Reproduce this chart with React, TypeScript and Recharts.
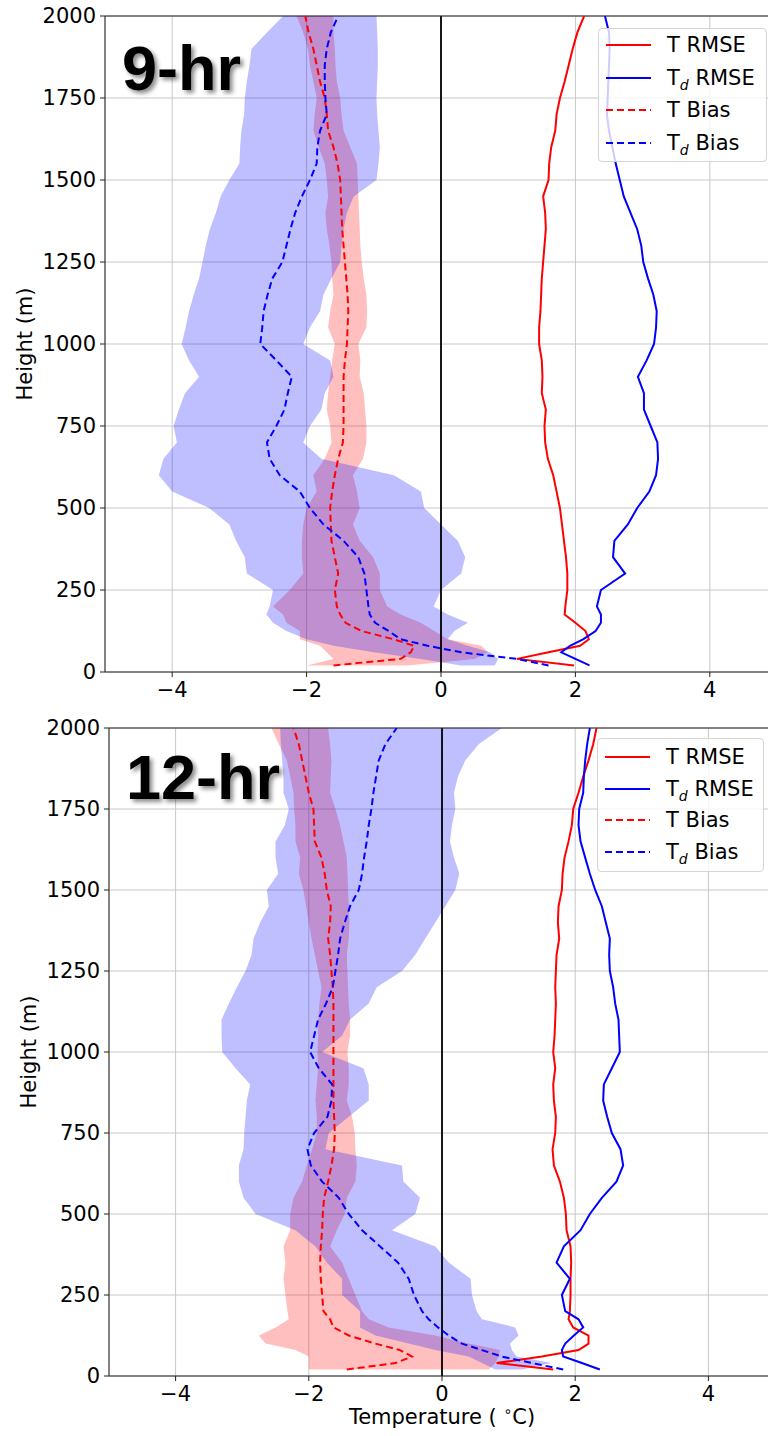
import React from 'react';
import { ComposedChart, Line, Area, XAxis, YAxis, CartesianGrid, ReferenceLine, Label } from 'recharts';

// ---------------- data ----------------
const heights = [20, 40, 60, 80, 100, 125, 150, 175, 200, 250, 300, 350, 400, 450, 500, 550, 600, 650, 700, 750, 800, 850, 900, 950, 1000, 1050, 1100, 1150, 1200, 1250, 1300, 1350, 1400, 1450, 1500, 1550, 1600, 1650, 1700, 1750, 1800, 1850, 1900, 1950, 2000];

const xTicks = [-4, -2, 0, 2, 4];
const yTicks = [0, 250, 500, 750, 1000, 1250, 1500, 1750, 2000];

// 9-hr panel
const tRmse9 = [1.98, 1.13, 1.6, 2.07, 2.2, 2.15, 2.0, 1.84, 1.85, 1.88, 1.88, 1.86, 1.83, 1.8, 1.77, 1.72, 1.67, 1.59, 1.55, 1.54, 1.56, 1.5, 1.51, 1.5, 1.46, 1.46, 1.48, 1.49, 1.5, 1.52, 1.54, 1.56, 1.55, 1.52, 1.6, 1.61, 1.64, 1.7, 1.72, 1.77, 1.84, 1.9, 1.96, 2.03, 2.13];
const tdRmse9 = [2.21, 2.0, 1.79, 1.92, 2.12, 2.3, 2.38, 2.38, 2.32, 2.38, 2.74, 2.56, 2.58, 2.78, 2.92, 3.1, 3.2, 3.23, 3.22, 3.12, 3.02, 3.02, 2.93, 3.06, 3.17, 3.2, 3.21, 3.16, 3.08, 3.01, 2.98, 2.92, 2.82, 2.72, 2.66, 2.6, 2.55, 2.5, 2.47, 2.48, 2.49, 2.5, 2.51, 2.5, 2.44];
const tBias9 = [-1.6, -0.6, -0.45, -0.4, -0.71, -1.18, -1.42, -1.5, -1.55, -1.58, -1.53, -1.58, -1.63, -1.64, -1.65, -1.62, -1.58, -1.53, -1.46, -1.45, -1.45, -1.45, -1.45, -1.43, -1.4, -1.39, -1.38, -1.39, -1.41, -1.43, -1.45, -1.47, -1.48, -1.49, -1.5, -1.54, -1.6, -1.68, -1.7, -1.73, -1.8, -1.85, -1.9, -1.97, -2.02];
const tdBias9 = [1.6, 1.13, 0.3, -0.2, -0.6, -0.78, -0.98, -1.06, -1.08, -1.11, -1.14, -1.23, -1.45, -1.75, -1.95, -2.1, -2.4, -2.55, -2.59, -2.45, -2.33, -2.28, -2.22, -2.45, -2.69, -2.66, -2.64, -2.58, -2.51, -2.36, -2.3, -2.24, -2.17, -2.07, -1.95, -1.85, -1.84, -1.8, -1.7, -1.72, -1.73, -1.73, -1.7, -1.64, -1.53];
const tBandLo9 = [-2.0, -1.6, -1.7, -1.8, -2.1, -2.1, -2.3, -2.35, -2.5, -2.25, -2.05, -2.07, -2.07, -2.05, -2.0, -1.85, -1.9, -1.73, -1.63, -1.65, -1.7, -1.68, -1.65, -1.62, -1.58, -1.68, -1.65, -1.6, -1.62, -1.63, -1.66, -1.7, -1.72, -1.68, -1.7, -1.73, -1.82, -1.9, -1.88, -1.85, -1.9, -1.95, -1.98, -2.05, -2.15];
const tBandHi9 = [-0.5, 0.5, 0.7, 0.6, 0.1, -0.1, -0.3, -0.6, -0.8, -0.91, -0.91, -1.01, -1.21, -1.31, -1.21, -1.25, -1.31, -1.16, -1.11, -1.11, -1.13, -1.15, -1.21, -1.2, -1.23, -1.11, -1.1, -1.11, -1.15, -1.18, -1.2, -1.21, -1.22, -1.23, -1.24, -1.25, -1.35, -1.45, -1.48, -1.5, -1.55, -1.57, -1.58, -1.6, -1.6];
const tdBandLo9 = [0.3, -0.3, -1.0, -1.6, -2.0, -2.3, -2.5, -2.6, -2.55, -2.5, -2.89, -2.92, -3.05, -3.15, -3.45, -4.0, -4.2, -4.13, -3.93, -3.98, -3.9, -3.81, -3.6, -3.75, -3.86, -3.8, -3.75, -3.68, -3.6, -3.55, -3.5, -3.44, -3.35, -3.28, -3.15, -3.0, -2.99, -2.97, -2.93, -2.92, -2.89, -2.85, -2.82, -2.59, -2.35];
const tdBandHi9 = [0.8, 0.85, 0.73, 0.4, 0.1, 0.2, 0.4, 0.1, -0.11, 0.0, 0.3, 0.36, 0.25, 0.0, -0.25, -0.3, -0.7, -1.78, -2.05, -1.95, -1.78, -1.73, -1.6, -1.65, -2.05, -1.95, -1.8, -1.75, -1.63, -1.5, -1.48, -1.45, -1.4, -1.3, -0.96, -0.93, -0.91, -0.93, -0.95, -0.96, -0.95, -0.94, -0.94, -0.95, -0.96];

// 12-hr panel
const tRmse12 = [1.67, 0.82, 1.5, 2.05, 2.2, 2.2, 1.97, 1.9, 1.92, 1.93, 1.93, 1.94, 1.93, 1.87, 1.86, 1.83, 1.77, 1.68, 1.66, 1.7, 1.71, 1.68, 1.67, 1.7, 1.67, 1.69, 1.7, 1.71, 1.7, 1.71, 1.72, 1.76, 1.74, 1.75, 1.8, 1.81, 1.84, 1.9, 1.95, 1.97, 2.05, 2.12, 2.2, 2.27, 2.32];
const tdRmse12 = [2.37, 2.1, 1.82, 1.8, 1.85, 1.98, 2.12, 2.05, 1.85, 1.8, 1.92, 1.72, 1.83, 2.08, 2.22, 2.4, 2.62, 2.72, 2.68, 2.55, 2.48, 2.42, 2.43, 2.55, 2.67, 2.66, 2.65, 2.6, 2.57, 2.52, 2.51, 2.52, 2.46, 2.4, 2.3, 2.22, 2.15, 2.08, 2.05, 2.06, 2.12, 2.13, 2.15, 2.18, 2.22];
const tBias12 = [-1.43, -0.7, -0.45, -0.63, -1.0, -1.4, -1.63, -1.68, -1.78, -1.8, -1.82, -1.83, -1.82, -1.8, -1.79, -1.77, -1.71, -1.66, -1.62, -1.61, -1.62, -1.63, -1.63, -1.63, -1.63, -1.63, -1.63, -1.63, -1.64, -1.66, -1.68, -1.71, -1.68, -1.67, -1.73, -1.76, -1.81, -1.91, -1.92, -1.93, -2.0, -2.05, -2.1, -2.15, -2.23];
const tdBias12 = [1.82, 1.35, 0.9, 0.6, 0.3, 0.1, -0.06, -0.2, -0.3, -0.42, -0.5, -0.66, -0.93, -1.2, -1.4, -1.55, -1.8, -1.97, -2.02, -1.92, -1.72, -1.66, -1.65, -1.85, -1.98, -1.92, -1.86, -1.74, -1.64, -1.6, -1.56, -1.53, -1.46, -1.38, -1.25, -1.2, -1.17, -1.13, -1.1, -1.06, -1.03, -0.99, -0.95, -0.85, -0.68];
const tBandLo12 = [-2.0, -2.0, -2.0, -2.2, -2.65, -2.75, -2.5, -2.3, -2.32, -2.35, -2.38, -2.35, -2.38, -2.28, -2.28, -2.23, -2.1, -2.03, -1.95, -1.88, -1.88, -1.9, -1.88, -1.86, -1.87, -1.86, -1.86, -1.84, -1.81, -1.86, -1.91, -1.96, -2.0, -2.04, -2.08, -2.15, -2.13, -2.2, -2.2, -2.22, -2.23, -2.28, -2.33, -2.45, -2.56];
const tBandHi12 = [0.7, 0.8, 0.85, 0.87, 0.4, -0.1, -0.8, -1.1, -1.2, -1.3, -1.4, -1.5, -1.68, -1.58, -1.46, -1.43, -1.3, -1.28, -1.3, -1.31, -1.35, -1.43, -1.4, -1.4, -1.42, -1.38, -1.38, -1.4, -1.41, -1.42, -1.43, -1.4, -1.39, -1.4, -1.41, -1.42, -1.43, -1.48, -1.53, -1.6, -1.68, -1.67, -1.66, -1.68, -1.71];
const tdBandLo12 = [0.8, 0.6, 0.4, -0.1, -0.5, -1.0, -1.23, -1.23, -1.23, -1.5, -1.5, -1.73, -1.9, -2.2, -2.8, -2.98, -3.05, -3.05, -2.98, -2.97, -2.95, -2.93, -2.88, -3.1, -3.3, -3.31, -3.31, -3.2, -3.08, -2.95, -2.86, -2.83, -2.73, -2.6, -2.63, -2.46, -2.5, -2.5, -2.36, -2.3, -2.38, -2.38, -2.4, -2.42, -2.43];
const tdBandHi12 = [1.2, 1.65, 1.12, 1.05, 1.02, 1.15, 1.1, 0.6, 0.52, 0.45, 0.43, 0.1, -0.1, -0.75, -0.4, -0.33, -0.58, -0.6, -1.75, -1.7, -1.4, -1.1, -1.1, -1.18, -1.8, -1.5, -1.38, -1.1, -0.98, -0.6, -0.4, -0.25, -0.1, 0.05, 0.2, 0.26, 0.18, 0.12, 0.15, 0.2, 0.18, 0.24, 0.35, 0.55, 0.9];

const buildRows = (
  tRmse: number[], tdRmse: number[], tBias: number[], tdBias: number[],
  tLo: number[], tHi: number[], tdLo: number[], tdHi: number[]
) =>
  heights.map((h, i) => ({
    h,
    tRmse: tRmse[i],
    tdRmse: tdRmse[i],
    tBias: tBias[i],
    tdBias: tdBias[i],
    tBand: [tLo[i], tHi[i]],
    tdBand: [tdLo[i], tdHi[i]],
  }));

const rows9 = buildRows(tRmse9, tdRmse9, tBias9, tdBias9, tBandLo9, tBandHi9, tdBandLo9, tdBandHi9);
const rows12 = buildRows(tRmse12, tdRmse12, tBias12, tdBias12, tBandLo12, tBandHi12, tdBandLo12, tdBandHi12);

// ---------------- styling ----------------
const FONT = 'DejaVu Sans';
const FS = 21;
const RED = '#ff0000';
const BLUE = '#0000ff';
const fmt = (v: number) => (v < 0 ? '\u2212' + Math.abs(v) : String(v));

type PanelProps = {
  rows: any[];
  width: number;
  height: number;
  top: number;
  yAxisWidth: number;
  xAxisHeight: number;
  marginTop: number;
  marginBottom: number;
  yLabelX: number;
  showXLabel: boolean;
};

const Panel = ({ rows, width, height, top, yAxisWidth, xAxisHeight, marginTop, marginBottom, yLabelX, showXLabel }: PanelProps) => {
  const plotH = height - marginTop - xAxisHeight - marginBottom;
  const cy = marginTop + plotH / 2;
  return (
    <div style={{ position: 'absolute', left: 0, top }}>
      <ComposedChart
        layout="vertical"
        width={width}
        height={height}
        data={rows}
        margin={{ top: marginTop, right: 13, bottom: marginBottom, left: 0 }}
      >
        <CartesianGrid stroke="#c8c8c8" strokeWidth={1} />
        <XAxis
          type="number"
          domain={[-5, 5]}
          ticks={xTicks}
          allowDataOverflow
          height={xAxisHeight}
          tickFormatter={fmt}
          tick={{ fontSize: FS, fill: '#000', fontFamily: FONT }}
          tickSize={5}
          tickMargin={5}
          axisLine={{ stroke: '#222', strokeWidth: 1 }}
          tickLine={{ stroke: '#222' }}
        >
          {showXLabel && (
            <Label
              content={(props: any) => {
                const vb = props.viewBox || {};
                const cx = (vb.x ?? yAxisWidth) + (vb.width ?? 666) / 2;
                const y = (vb.y ?? marginTop + plotH) + 48;
                return (
                  <text x={cx} y={y} textAnchor="middle" fontSize={FS} fontFamily={FONT} fill="#000">
                    {'Temperature ( '}
                    <tspan fontSize={14} dy={-8}>{'\u2218'}</tspan>
                    <tspan dy={8}>C)</tspan>
                  </text>
                );
              }}
            />
          )}
        </XAxis>
        <YAxis
          type="number"
          dataKey="h"
          domain={[0, 2000]}
          ticks={yTicks}
          reversed
          allowDataOverflow
          width={yAxisWidth}
          tick={{ fontSize: FS, fill: '#000', fontFamily: FONT }}
          tickSize={5}
          tickMargin={4}
          axisLine={{ stroke: '#222', strokeWidth: 1 }}
          tickLine={{ stroke: '#222' }}
        >
          <Label
            content={() => (
              <text
                x={yLabelX}
                y={cy}
                transform={`rotate(-90 ${yLabelX} ${cy})`}
                textAnchor="middle"
                fontSize={FS}
                fontFamily={FONT}
                fill="#000"
              >
                Height (m)
              </text>
            )}
          />
        </YAxis>
        <Area dataKey="tBand" type="linear" stroke="none" fill={RED} fillOpacity={0.25} isAnimationActive={false} />
        <Area dataKey="tdBand" type="linear" stroke="none" fill={BLUE} fillOpacity={0.25} isAnimationActive={false} />
        <ReferenceLine x={0} stroke="#000" strokeWidth={1.8} />
        <ReferenceLine y={2000} stroke="#222" strokeWidth={1} />
        <Line dataKey="tRmse" type="linear" stroke={RED} strokeWidth={2} dot={false} isAnimationActive={false} />
        <Line dataKey="tdRmse" type="linear" stroke={BLUE} strokeWidth={2} dot={false} isAnimationActive={false} />
        <Line dataKey="tBias" type="linear" stroke={RED} strokeWidth={2} strokeDasharray="7 4" dot={false} isAnimationActive={false} />
        <Line dataKey="tdBias" type="linear" stroke={BLUE} strokeWidth={2} strokeDasharray="7 4" dot={false} isAnimationActive={false} />
      </ComposedChart>
    </div>
  );
};

const legendItems = [
  { key: 'tRmse', color: RED, dash: false, base: 'T', sub: '', rest: ' RMSE' },
  { key: 'tdRmse', color: BLUE, dash: false, base: 'T', sub: 'd', rest: ' RMSE' },
  { key: 'tBias', color: RED, dash: true, base: 'T', sub: '', rest: ' Bias' },
  { key: 'tdBias', color: BLUE, dash: true, base: 'T', sub: 'd', rest: ' Bias' },
];

const LegendBox = ({ left, top, width, height, rowTops }: { left: number; top: number; width: number; height: number; rowTops: number[] }) => (
  <div
    style={{
      position: 'absolute',
      left,
      top,
      width,
      height,
      boxSizing: 'border-box',
      border: '1px solid #d4d4d4',
      borderRadius: 4,
      background: 'rgba(255,255,255,0.8)',
      fontFamily: FONT,
      fontSize: FS,
      color: '#000',
    }}
  >
    {legendItems.map((it, i) => (
      <div key={it.key} style={{ position: 'absolute', left: 0, top: rowTops[i] - 12, height: 24, width: width - 2, lineHeight: '24px', whiteSpace: 'nowrap' }}>
        <svg width={46} height={24} style={{ position: 'absolute', left: 7, top: 0 }}>
          <line x1={0} y1={12} x2={45} y2={12} stroke={it.color} strokeWidth={2.2} strokeDasharray={it.dash ? '7 4' : undefined} />
        </svg>
        <span style={{ position: 'absolute', left: 68, top: 0 }}>
          {it.base}
          {it.sub && <span style={{ fontStyle: 'italic', fontSize: 14, position: 'relative', top: 5 }}>{it.sub}</span>}
          {it.rest}
        </span>
      </div>
    ))}
  </div>
);

const titleStyle: React.CSSProperties = {
  position: 'absolute',
  fontFamily: 'Liberation Sans, Arial, sans-serif',
  fontWeight: 700,
  fontSize: 63,
  lineHeight: '63px',
  color: '#000',
  textShadow: '3px 3px 4px rgba(0,0,0,0.45)',
  whiteSpace: 'nowrap',
};

export default function App() {
  return (
    <div style={{ position: 'absolute', left: 0, top: 0, width: 768, height: 1436, overflow: 'hidden', background: '#fff' }}>
      <Panel rows={rows9} width={790} height={720} top={0} yAxisWidth={105} xAxisHeight={28} marginTop={16} marginBottom={20} yLabelX={32} showXLabel={false} />
      <Panel rows={rows12} width={788} height={736} top={700} yAxisWidth={109} xAxisHeight={60} marginTop={28} marginBottom={0} yLabelX={36} showXLabel={true} />
      <div style={{ ...titleStyle, left: 122, top: 37 }}>9-hr</div>
      <div style={{ ...titleStyle, left: 126, top: 746 }}>12-hr</div>
      <LegendBox left={598} top={28} width={169} height={134} rowTops={[16, 49, 81, 114]} />
      <LegendBox left={597} top={738} width={167} height={134} rowTops={[18, 50, 81, 113]} />
    </div>
  );
}
